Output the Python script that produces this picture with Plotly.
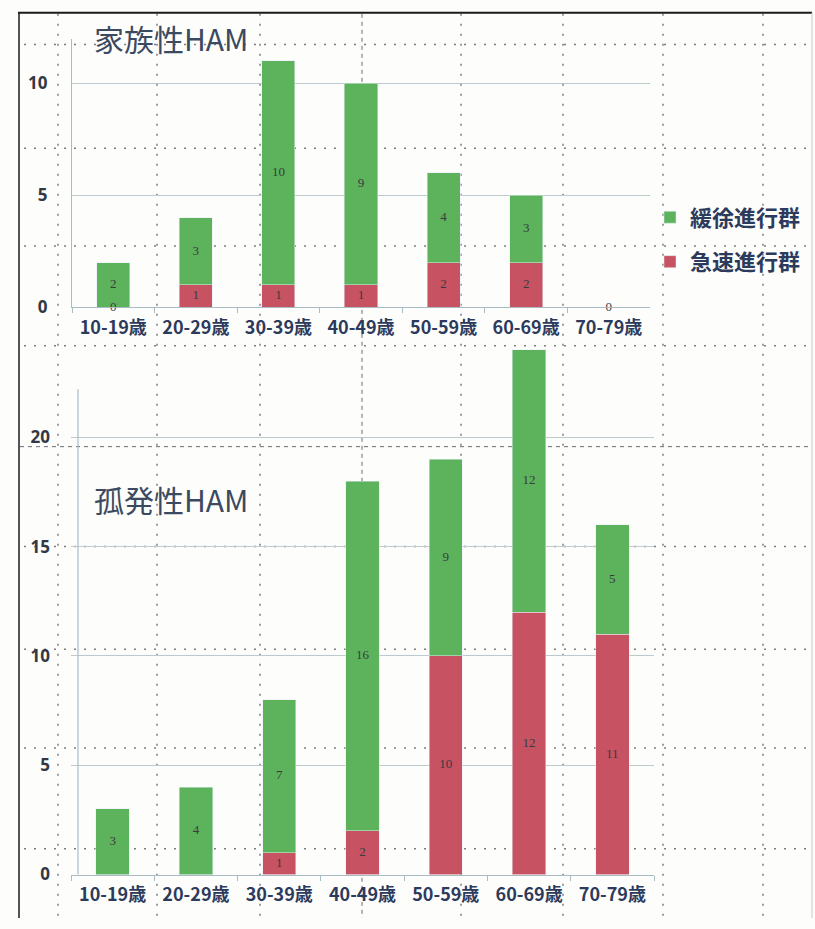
import plotly.graph_objects as go

# Age groups shared by both panels
categories = ["10-19歳", "20-29歳", "30-39歳", "40-49歳", "50-59歳", "60-69歳", "70-79歳"]

# Familial HAM (upper panel)
familial_slow = [2, 3, 10, 9, 4, 3, 0]     # 緩徐進行群
familial_rapid = [0, 1, 1, 1, 2, 2, 0]     # 急速進行群

# Sporadic HAM (lower panel)
sporadic_slow = [3, 4, 7, 16, 9, 12, 5]
sporadic_rapid = [0, 0, 1, 2, 10, 12, 11]

series_names = ["緩徐進行群", "急速進行群"]
panel_titles = ["家族性HAM", "孤発性HAM"]

W, H = 815, 929
GREEN = "#5db35b"
RED = "#c75261"
NAVY = "#2c3a5c"
AXIS = "#a9bcc4"
GRID = "#bccbd0"
CJK = "Noto Sans CJK JP"


def px(x):
    return x / W


def py(y):
    return 1 - y / H


fig = go.Figure()


def add_panel(slow, rapid, xa, ya, legends, label_zero):
    # rapid group stacked at the bottom, slow group above it
    fig.add_trace(go.Bar(
        x=categories, y=rapid, name=series_names[1], marker_color=RED,
        width=0.4, xaxis=xa, yaxis=ya, hoverinfo="skip",
        showlegend=legends is not None, legend=legends[1] if legends else None,
    ))
    fig.add_trace(go.Bar(
        x=categories, y=slow, name=series_names[0], marker_color=GREEN,
        width=0.4, xaxis=xa, yaxis=ya, hoverinfo="skip",
        showlegend=legends is not None, legend=legends[0] if legends else None,
    ))
    # value labels centred in each segment (an empty column gets a single "0")
    lx, ly, lt = [], [], []
    for c, r, s in zip(categories, rapid, slow):
        segs = [(0, r), (r, s)] if (r or s) else [(0, 0)]
        for base, v in segs:
            if v == 0 and not label_zero:
                continue
            lx.append(c)
            ly.append(base + v / 2)
            lt.append(str(v))
    fig.add_trace(go.Scatter(
        x=lx, y=ly, text=lt, mode="text", xaxis=xa, yaxis=ya,
        textfont=dict(family="Liberation Serif", size=13, color="#3a3a40"),
        showlegend=False, hoverinfo="skip", cliponaxis=False,
    ))


add_panel(familial_slow, familial_rapid, "x", "y", ("legend", "legend2"), True)
add_panel(sporadic_slow, sporadic_rapid, "x2", "y2", None, False)

xcommon = dict(
    type="category", showline=True, linecolor=AXIS, linewidth=1.2,
    ticks="outside", tickson="boundaries", ticklen=5, tickcolor=AXIS,
    showgrid=False, zeroline=False, ticklabelstandoff=4,
    tickfont=dict(family=CJK, size=18, color=NAVY, weight="bold"),
)
ycommon = dict(
    showgrid=True, gridcolor=GRID, gridwidth=1, zeroline=False,
    ticks="", ticklabelstandoff=20,
    tickfont=dict(family="Noto Sans", size=17, color="#333845", weight="bold"),
)

fig.update_layout(
    width=W, height=H, autosize=False,
    margin=dict(l=0, r=0, t=0, b=0),
    paper_bgcolor="#fdfdfb", plot_bgcolor="rgba(0,0,0,0)",
    barmode="stack",
    xaxis=dict(domain=[px(72), px(650)], anchor="y", **xcommon),
    yaxis=dict(domain=[py(311), py(39)], range=[0, 12], tickvals=[0, 5, 10],
               anchor="x", showline=True, linecolor=AXIS, linewidth=1.2, **ycommon),
    xaxis2=dict(domain=[px(71), px(654)], anchor="y2", **xcommon),
    yaxis2=dict(domain=[py(885), py(343)], range=[0, 24.5], tickvals=[0, 5, 10, 15, 20],
                anchor="x2", showline=False, **ycommon),
    legend=dict(x=px(650), y=py(220), xanchor="left", yanchor="middle",
                bgcolor="rgba(0,0,0,0)",
                font=dict(family=CJK, size=22, color=NAVY, weight="bold")),
    legend2=dict(x=px(650), y=py(265), xanchor="left", yanchor="middle",
                 bgcolor="rgba(0,0,0,0)",
                 font=dict(family=CJK, size=22, color=NAVY, weight="bold")),
    showlegend=True,
)

# panel titles
for title, ycen in zip(panel_titles, (38, 505)):
    fig.add_annotation(
        text=title, x=px(92), y=py(ycen), xref="paper", yref="paper",
        xanchor="left", yanchor="middle", showarrow=False,
        font=dict(family=CJK, size=30, color="#3b4a60"),
    )

shapes = []
# dotted page grid behind the charts
for yy in (45, 150, 249, 350, 553, 657, 757, 859):
    shapes.append(dict(type="line", xref="paper", yref="paper",
                       x0=px(24), x1=px(812), y0=py(yy), y1=py(yy), layer="below",
                       line=dict(color="#7d7d85", width=1.5, dash="2px,8px")))
for xx in (58, 157, 260, 461, 563, 663, 763):
    shapes.append(dict(type="line", xref="paper", yref="paper",
                       x0=px(xx), x1=px(xx), y0=py(14), y1=py(929), layer="below",
                       line=dict(color="#7d7d85", width=1.5, dash="2px,8px")))
shapes.append(dict(type="line", xref="paper", yref="paper",
                   x0=px(20), x1=px(812), y0=py(452), y1=py(452), layer="below",
                   line=dict(color="#6a6a72", width=1, dash="4px,4px")))
shapes.append(dict(type="line", xref="paper", yref="paper",
                   x0=px(362), x1=px(362), y0=py(14), y1=py(929), layer="below",
                   line=dict(color="#6a6a72", width=1, dash="4px,4px")))
# lower value axis line stops short of the tallest bar
shapes.append(dict(type="line", xref="paper", yref="y2",
                   x0=px(78), x1=px(78), y0=0, y1=22.2,
                   line=dict(color=AXIS, width=1.2)))
# frame edges
shapes.append(dict(type="line", xref="paper", yref="paper",
                   x0=px(18), x1=px(812), y0=py(13), y1=py(13),
                   line=dict(color="#1a1a1a", width=2)))
shapes.append(dict(type="line", xref="paper", yref="paper",
                   x0=px(19), x1=px(19), y0=py(13), y1=py(929),
                   line=dict(color="#1a1a1a", width=1.5)))
shapes.append(dict(type="line", xref="paper", yref="paper",
                   x0=px(812), x1=px(812), y0=py(13), y1=py(929),
                   line=dict(color="#c8c8c8", width=1)))
fig.update_layout(shapes=shapes)

fig.write_html("out.html", config={"responsive": False})
